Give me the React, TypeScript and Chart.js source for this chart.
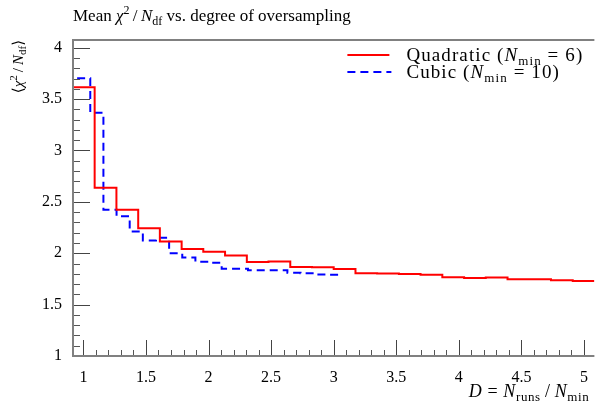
import React, { useEffect, useRef } from "react";
import { Chart, registerables } from "chart.js";

Chart.register(...registerables);

// ---- data ----
const QUAD_EDGES = [0.917, 1.090, 1.264, 1.438, 1.611, 1.785, 1.958, 2.132, 2.306, 2.479, 2.653, 2.826, 3.000, 3.174, 3.347, 3.521, 3.694, 3.868, 4.042, 4.215, 4.389, 4.563, 4.736, 4.910, 5.083];
const QUAD_VALUES = [3.616, 2.637, 2.423, 2.243, 2.113, 2.042, 2.015, 1.977, 1.915, 1.920, 1.865, 1.864, 1.846, 1.805, 1.803, 1.799, 1.790, 1.766, 1.760, 1.763, 1.747, 1.747, 1.737, 1.730];
const CUBIC_EDGES = [0.95, 1.055, 1.16, 1.265, 1.37, 1.475, 1.58, 1.685, 1.79, 1.895, 2.0, 2.105, 2.21, 2.315, 2.42, 2.525, 2.63, 2.735, 2.84, 2.945, 3.05];
const CUBIC_VALUES = [3.704, 3.367, 2.423, 2.360, 2.211, 2.124, 2.150, 2.000, 1.958, 1.918, 1.908, 1.848, 1.848, 1.835, 1.835, 1.835, 1.810, 1.805, 1.793, 1.790];

const X_TICKS = [1, 1.5, 2, 2.5, 3, 3.5, 4, 4.5, 5];
const X_TICK_LABELS = ["1", "1.5", "2", "2.5", "3", "3.5", "4", "4.5", "5"];
const Y_TICKS = [1, 1.5, 2, 2.5, 3, 3.5, 4];
const Y_TICK_LABELS = ["1", "1.5", "2", "2.5", "3", "3.5", "4"];
const X_MIN = 0.917, X_MAX = 5.083, Y_MIN = 1, Y_MAX = 4.075;

type Seg = { t: string; it?: boolean; sub?: boolean; sup?: boolean };
const TITLE: Seg[] = [{ t: "Mean " }, { t: "χ", it: true }, { t: "2", sup: true }, { t: "\u2009/\u2009" }, { t: "N", it: true }, { t: "df", sub: true }, { t: " vs. degree of oversampling" }];
const Y_TITLE: Seg[] = [{ t: "⟨" }, { t: "χ", it: true }, { t: "2", sup: true }, { t: "\u2009/\u2009" }, { t: "N", it: true }, { t: "df", sub: true }, { t: "⟩" }];
const X_TITLE: Seg[] = [{ t: "D", it: true }, { t: " = " }, { t: "N", it: true }, { t: "runs", sub: true }, { t: "\u2009/\u2009" }, { t: "N", it: true }, { t: "min", sub: true }];
const LEG_QUAD: Seg[] = [{ t: "Quadratic (" }, { t: "N", it: true }, { t: "min", sub: true }, { t: " = 6)" }];
const LEG_CUBIC: Seg[] = [{ t: "Cubic (" }, { t: "N", it: true }, { t: "min", sub: true }, { t: " = 10)" }];

const RED = "rgb(255,0,0)";
const BLUE = "rgb(0,0,255)";
const FAM = '"Liberation Serif", "DejaVu Serif", serif';

function setFont(ctx: CanvasRenderingContext2D, s: Seg, size: number) {
  ctx.font = `${s.it ? "italic " : ""}${s.sub || s.sup ? Math.round(size * 0.7) : size}px ${FAM}`;
}
function richWidth(ctx: CanvasRenderingContext2D, segs: Seg[], size: number) {
  let w = 0;
  for (const s of segs) {
    setFont(ctx, s, size);
    w += ctx.measureText(s.t).width;
  }
  return w;
}
function drawRich(ctx: CanvasRenderingContext2D, segs: Seg[], x: number, y: number, size: number, align: "left" | "right", spacing = 0) {
  (ctx as any).letterSpacing = `${spacing}px`;
  const total = richWidth(ctx, segs, size);
  let cx = align === "right" ? x - total : x;
  ctx.textAlign = "left";
  ctx.textBaseline = "alphabetic";
  ctx.fillStyle = "#000";
  for (const s of segs) {
    setFont(ctx, s, size);
    const dy = s.sub ? size * 0.22 : s.sup ? -size * 0.4 : 0;
    ctx.fillText(s.t, cx, y + dy);
    cx += ctx.measureText(s.t).width;
  }
  (ctx as any).letterSpacing = "0px";
}

const decor = {
  id: "decor",
  afterDatasetsDraw(chart: any) {
    const ctx: CanvasRenderingContext2D = chart.ctx;
    const { left, right, top, bottom } = chart.chartArea;
    const xs = chart.scales.x, ys = chart.scales.y;
    ctx.save();
    ctx.lineWidth = 1;
    for (let i = 10; i <= 50; i++) {
      const px = Math.round(xs.getPixelForValue(i / 10)) + 0.5;
      const major = i % 5 === 0;
      ctx.strokeStyle = major ? "#444" : "#555";
      ctx.beginPath();
      ctx.moveTo(px, bottom);
      ctx.lineTo(px, bottom - (major ? 16 : 6));
      ctx.stroke();
    }
    for (let i = 10; i <= 40; i++) {
      const py = Math.round(ys.getPixelForValue(i / 10)) + 0.5;
      const major = i % 5 === 0;
      ctx.strokeStyle = major ? "#444" : "#555";
      ctx.beginPath();
      ctx.moveTo(left, py);
      ctx.lineTo(left + (major ? 17 : 7), py);
      ctx.stroke();
    }
    ctx.strokeStyle = "#808080";
    ctx.lineWidth = 2;
    ctx.beginPath();
    ctx.moveTo(right, top);
    ctx.lineTo(left, top);
    ctx.lineTo(left, bottom);
    ctx.lineTo(right, bottom);
    ctx.stroke();
    ctx.restore();
  },
  afterDraw(chart: any) {
    const ctx: CanvasRenderingContext2D = chart.ctx;
    const { left, right, top, bottom } = chart.chartArea;
    ctx.save();
    drawRich(ctx, TITLE, left, top - 19, 17, "left");
    ctx.save();
    ctx.translate(23, top);
    ctx.rotate(-Math.PI / 2);
    drawRich(ctx, Y_TITLE, 0, 0, 15, "right");
    ctx.restore();
    drawRich(ctx, X_TITLE, right - 5, bottom + 41, 18, "right", 0.6);
    const lx0 = right - 247, lx1 = right - 205, tx = right - 188;
    ctx.lineWidth = 2;
    ctx.strokeStyle = RED;
    ctx.beginPath(); ctx.moveTo(lx0, top + 15); ctx.lineTo(lx1, top + 15); ctx.stroke();
    ctx.strokeStyle = BLUE;
    ctx.setLineDash([8, 5]);
    ctx.beginPath(); ctx.moveTo(lx0, top + 32); ctx.lineTo(lx1 + 2, top + 32); ctx.stroke();
    ctx.setLineDash([]);
    drawRich(ctx, LEG_QUAD, tx, top + 21, 19, "left", 1.1);
    drawRich(ctx, LEG_CUBIC, tx, top + 38, 19, "left", 1.1);
    ctx.restore();
  },
};

export default function App() {
  const ref = useRef<HTMLCanvasElement | null>(null);
  useEffect(() => {
    if (!ref.current) return;
    const quad = QUAD_EDGES.map((x, i) => ({ x, y: QUAD_VALUES[Math.min(i, QUAD_VALUES.length - 1)] }));
    const cubic = CUBIC_EDGES.map((x, i) => ({ x, y: CUBIC_VALUES[Math.min(i, CUBIC_VALUES.length - 1)] }));
    const chart = new Chart(ref.current, {
      type: "line",
      data: {
        datasets: [
          { label: "Quadratic", data: quad, borderColor: RED, borderWidth: 2, stepped: "before", pointRadius: 0, fill: false },
          { label: "Cubic", data: cubic, borderColor: BLUE, borderWidth: 2, borderDash: [8, 5], stepped: "before", pointRadius: 0, fill: false },
        ],
      },
      options: {
        animation: false,
        responsive: false,
        layout: { padding: { top: 40, right: 0, left: 0, bottom: 0 } },
        plugins: { legend: { display: false }, title: { display: false }, tooltip: { enabled: false } },
        scales: {
          x: {
            type: "linear",
            min: X_MIN,
            max: X_MAX,
            grid: { display: false, drawTicks: false, tickLength: 0 },
            border: { display: false },
            afterBuildTicks: (s: any) => { s.ticks = X_TICKS.map((v) => ({ value: v })); },
            afterFit: (s: any) => { s.height = 48; },
            ticks: {
              autoSkip: false,
              maxRotation: 0,
              padding: 12,
              color: "#000",
              font: { family: FAM, size: 16 },
              callback: (_v: any, i: number) => X_TICK_LABELS[i],
            },
          },
          y: {
            type: "linear",
            min: Y_MIN,
            max: Y_MAX,
            grid: { display: false, drawTicks: false, tickLength: 0 },
            border: { display: false },
            afterBuildTicks: (s: any) => { s.ticks = Y_TICKS.map((v) => ({ value: v })); },
            afterFit: (s: any) => { s.width = 73; },
            ticks: {
              autoSkip: false,
              padding: 11,
              color: "#000",
              font: { family: FAM, size: 16 },
              callback: (_v: any, i: number) => Y_TICK_LABELS[i],
            },
          },
        },
      },
      plugins: [decor],
    });
    return () => chart.destroy();
  }, []);
  return (
    <div style={{ position: "absolute", left: 0, top: 0, width: 600, height: 404, background: "#fff" }}>
      <canvas ref={ref} width={600} height={404} style={{ display: "block" }} />
    </div>
  );
}
